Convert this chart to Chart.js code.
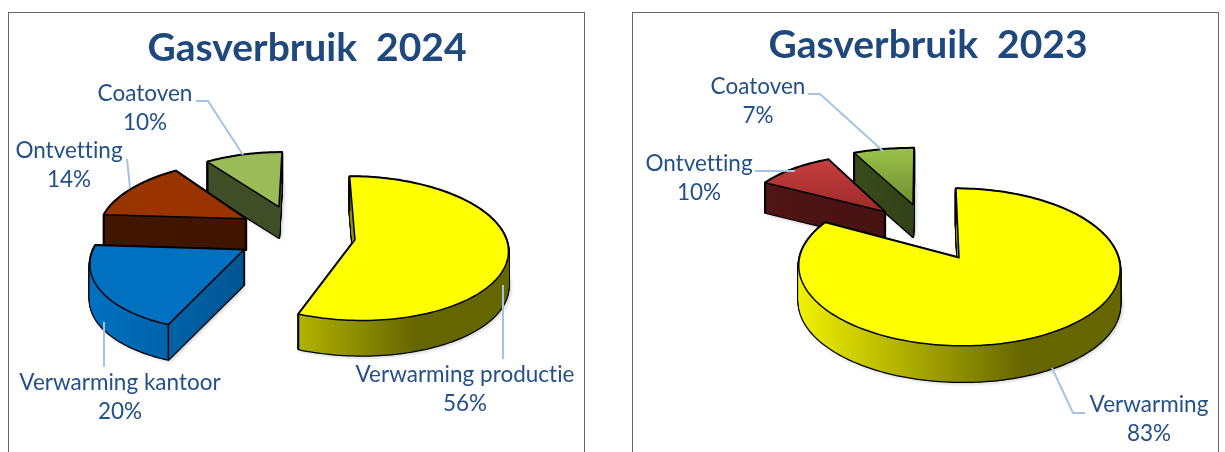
<!DOCTYPE html>
<html><head><meta charset="utf-8">
<style>
html,body{margin:0;padding:0;background:#fff;width:1225px;height:452px;overflow:hidden}
canvas{position:absolute}
.box{position:absolute;top:12px;height:460px;border:1px solid #666;box-sizing:border-box}
</style>
<script src="https://cdn.jsdelivr.net/npm/chart.js@4/dist/chart.umd.js"></script>
</head><body>
<div class="box" style="left:8px;width:577px"></div>
<div class="box" style="left:632px;width:587px"></div>
<canvas id="c2024" width="598" height="439" style="left:8px;top:13px"></canvas>
<canvas id="c2023" width="592" height="439" style="left:632px;top:13px"></canvas>
<script>
// ---- data
const title2024 = 'Gasverbruik  2024';
const categories2024 = ['Verwarming productie', 'Verwarming kantoor', 'Ontvetting', 'Coatoven'];
const values2024 = [56, 20, 14, 10];
const title2023 = 'Gasverbruik  2023';
const categories2023 = ['Verwarming', 'Ontvetting', 'Coatoven'];
const values2023 = [83, 10, 7];

// ---- styles
const topColors2024 = ['#FFFF00', '#0070C0', '#993300', '#9BBB59'];
const topEnds2024 = [null, null, null, null];
const wallFrom2024 = ['#F0F000', '#0070C0', '#421600', '#41502A'];
const wallTo2024 = ['#666600', '#004A80', '#3E1400', '#3E4D24'];
const topColors2023 = ['#FFFF00', '#CC4040', '#9CC24A'];
const topEnds2023 = [null, '#9C2A2A', '#6E8F30'];
const wallFrom2023 = ['#F0F000', '#521616', '#465A24'];
const wallTo2023 = ['#666600', '#421010', '#2A3812'];

// per-slice placement relative to the pie centre (explosion and perspective)
const shiftX2024 = [48, -63, -61, -28], shiftY2024 = [-23, -13, -44, -56];
const radiusX2024 = [1.515, 1.51, 1.44, 1.38], radiusY2024 = [0.71, 0.715, 0.65, 0.61];
const skew2024 = [6, -12.5, -9.4, -3.3], depth2024 = [35, 35, 31, 31];
const shiftX2023 = [31, -43, -15], shiftY2023 = [-5, -51, -58];
const radiusX2023 = [1.595, 1.436, 1.55], radiusY2023 = [0.775, 0.64, 0.635];
const skew2023 = [3.4, 1.8, -1], depth2023 = [36, 30, 32];
const PERSPECTIVE = 0.12;

// label anchors and leader lines, in page pixels
const labelX2024 = [465, 120, 69, 145], labelY2024 = [375, 383, 151, 94];
const leaders2024 = [[[503,285],[503,359]], [[104,322],[104,367]], [[127,159],[130,188]], [[196,101],[208,101],[243,155]]];
const labelX2023 = [1149, 699, 758], labelY2023 = [405, 164, 87];
const leaders2023 = [[[1052,368],[1073,413],[1085,413]], [[755,171],[795,171]], [[808,94],[820,94],[883,151]]];
const LINE_GAP = 29;
const TEXT_COLOR = '#24508A', TITLE_COLOR = '#1F497D', LEADER_COLOR = '#A3C4E8';
const FONT = 'Lato';

// ---- projected slice geometry
function geom(el, s, i) {
  return {
    tx: el.x + s.dx[i], ty: el.y + s.dy[i],
    rx: el.outerRadius * s.rx[i], ry: el.outerRadius * s.ry[i],
    sk: s.skew[i], depth: s.depth[i]
  };
}
function project(g, a) {
  const t = a + Math.PI / 2, sn = Math.sin(t), cs = Math.cos(t), w = 1 + PERSPECTIVE * cs;
  return [g.tx + (g.rx * sn - g.sk * cs) / w, g.ty - g.ry * cs / w];
}
function slicePath(ctx, g, el, off) {
  const n = Math.max(8, Math.ceil((el.endAngle - el.startAngle) * 40));
  ctx.beginPath();
  ctx.moveTo(g.tx, g.ty + off);
  for (let k = 0; k <= n; k++) {
    const p = project(g, el.startAngle + (el.endAngle - el.startAngle) * k / n);
    ctx.lineTo(p[0], p[1] + off);
  }
  ctx.closePath();
}

// the library's arc element, drawn through the projection above
const baseArcDraw = Chart.ArcElement.prototype.draw;
Chart.ArcElement.prototype.draw = function (ctx) {
  if (!this.$slice) return baseArcDraw.call(this, ctx);
  const { style, index } = this.$slice, g = geom(this, style, index);
  let fill = this.options.backgroundColor;
  if (style.topEnd[index]) {
    const gr = ctx.createLinearGradient(0, g.ty - g.ry * 0.9, 0, g.ty);
    gr.addColorStop(0, fill); gr.addColorStop(1, style.topEnd[index]);
    fill = gr;
  }
  ctx.save();
  slicePath(ctx, g, this, 0);
  ctx.fillStyle = fill; ctx.fill();
  ctx.lineJoin = 'round'; ctx.lineWidth = 1.5; ctx.strokeStyle = '#000'; ctx.stroke();
  ctx.restore();
};

const sliceWalls = {
  id: 'sliceWalls',
  beforeDatasetsDraw(chart, args, opts) {
    const ctx = chart.ctx, s = opts.style, arcs = chart.getDatasetMeta(0).data;
    arcs.forEach((el, i) => { el.$slice = { style: s, index: i }; });
    for (let i = arcs.length - 1; i >= 0; i--) {
      const el = arcs[i], g = geom(el, s, i);
      const gr = ctx.createLinearGradient(g.tx - g.rx, 0, g.tx + 0.4 * g.rx, 0);
      gr.addColorStop(0, s.wallFrom[i]); gr.addColorStop(1, s.wallTo[i]);
      ctx.save();
      ctx.lineJoin = 'round';
      // soft shadow and outline of the whole extruded body
      ctx.shadowColor = 'rgba(0,0,0,0.35)'; ctx.shadowBlur = 4; ctx.shadowOffsetX = 1.5; ctx.shadowOffsetY = 1;
      ctx.fillStyle = '#000';
      slicePath(ctx, g, el, g.depth); ctx.fill();
      ctx.shadowColor = 'transparent';
      ctx.strokeStyle = '#000'; ctx.lineWidth = 2.5;
      for (let d = g.depth; d >= 0; d--) { slicePath(ctx, g, el, d); ctx.stroke(); }
      ctx.fillStyle = gr;
      for (let d = g.depth; d >= 0; d--) { slicePath(ctx, g, el, d); ctx.fill(); }
      // upright edges at the cut faces
      ctx.lineWidth = 1.5;
      [el.startAngle, el.endAngle].forEach(a => {
        const p = project(g, a);
        ctx.beginPath(); ctx.moveTo(p[0], p[1]); ctx.lineTo(p[0], p[1] + g.depth); ctx.stroke();
      });
      ctx.restore();
    }
  },
  afterDraw(chart, args, opts) {
    const ctx = chart.ctx, L = chart.canvas.offsetLeft, T = chart.canvas.offsetTop;
    const names = chart.data.labels, vals = chart.data.datasets[0].data;
    ctx.save();
    ctx.strokeStyle = LEADER_COLOR; ctx.lineWidth = 2;
    opts.leaders.forEach(pts => {
      ctx.beginPath();
      pts.forEach((p, k) => k ? ctx.lineTo(p[0] - L, p[1] - T) : ctx.moveTo(p[0] - L, p[1] - T));
      ctx.stroke();
    });
    ctx.fillStyle = TEXT_COLOR; ctx.textAlign = 'center'; ctx.textBaseline = 'middle';
    ctx.font = '22.5px ' + FONT;
    ctx.letterSpacing = '0.01px';
    names.forEach((n, i) => {
      const x = opts.labelX[i] - L, y = opts.labelY[i] - T;
      ctx.fillText(n, x, y);
      ctx.fillText(vals[i] + '%', x, y + LINE_GAP);
    });
    ctx.restore();
  }
};

function makeChart(id, title, titlePad, categories, values, colors, style, labelX, labelY, leaders) {
  return new Chart(document.getElementById(id), {
    type: 'pie',
    data: { labels: categories, datasets: [{ data: values, backgroundColor: colors, borderWidth: 0, radius: 100 }] },
    options: {
      responsive: false, animation: false, events: [], rotation: 0,
      layout: { padding: 0 },
      plugins: {
        legend: { display: false }, tooltip: { enabled: false },
        title: { display: true, text: title, color: TITLE_COLOR, padding: titlePad,
                 font: { family: FONT, size: 39, weight: 'bold' } },
        sliceWalls: { style, labelX, labelY, leaders }
      }
    },
    plugins: [sliceWalls]
  });
}

makeChart('c2024', title2024, { top: 12.5, bottom: 1.3 }, categories2024, values2024, topColors2024,
  { dx: shiftX2024, dy: shiftY2024, rx: radiusX2024, ry: radiusY2024, skew: skew2024, depth: depth2024,
    topEnd: topEnds2024, wallFrom: wallFrom2024, wallTo: wallTo2024 },
  labelX2024, labelY2024, leaders2024);
makeChart('c2023', title2023, { top: 9.5, bottom: 4.3 }, categories2023, values2023, topColors2023,
  { dx: shiftX2023, dy: shiftY2023, rx: radiusX2023, ry: radiusY2023, skew: skew2023, depth: depth2023,
    topEnd: topEnds2023, wallFrom: wallFrom2023, wallTo: wallTo2023 },
  labelX2023, labelY2023, leaders2023);
</script>
</body></html>
